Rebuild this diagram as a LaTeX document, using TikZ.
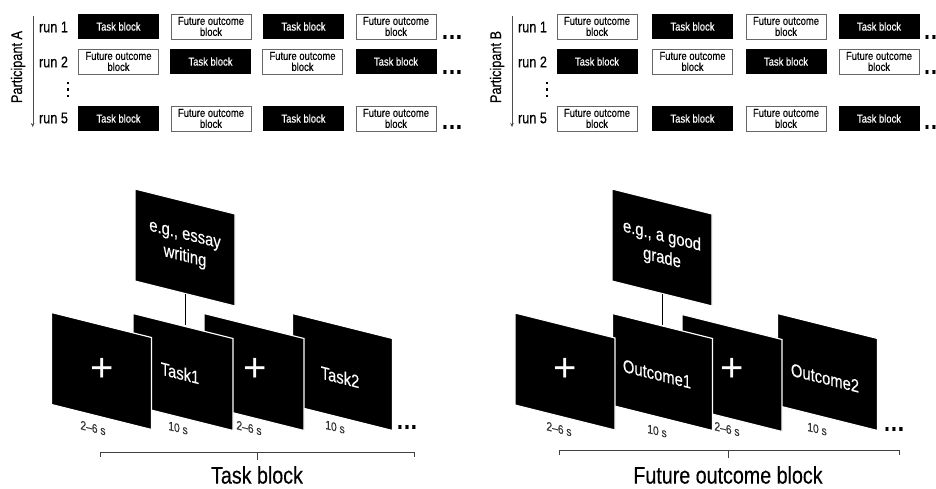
\documentclass[tikz,border=0pt]{standalone}
\usepackage{fontspec}
\setmainfont{Liberation Sans}[FakeStretch=0.82, FakeBold=0.3]
\newfontfamily\crossfont{Liberation Sans}
\usepackage{tikz}
\usetikzlibrary{arrows.meta}

\newcommand{\rowdots}{\textbf{.\hspace{1.5pt}.\hspace{1.5pt}.}}

\tikzset{
  taskbox/.style={fill=black, text=white, minimum width=81pt, minimum height=25pt,
    inner sep=0pt, font=\fontsize{11.5}{11}\selectfont},
  outbox/.style={draw=black!60, line width=0.8pt, fill=white, minimum width=80pt,
    minimum height=25pt, inner sep=0pt, align=center, font=\fontsize{11.5}{11}\selectfont},
  runlab/.style={font=\fontsize{15.5}{16}\selectfont},
  screen/.style={fill=black, draw=white, line width=1.2pt, text=white, yslant=-0.25,
    minimum width=100pt, minimum height=92pt, inner sep=0pt, align=center,
    font=\fontsize{18}{22}\selectfont},
  screentext/.style={text=white, yslant=-0.25, font=\fontsize{18}{22}\selectfont},
  fixcross/.style={text=white, font=\crossfont\fontsize{40}{40}\selectfont},
  durlab/.style={text=black!80, yslant=-0.25, font=\fontsize{12.5}{13}\selectfont},
  blocklab/.style={font=\fontsize{24}{25}\selectfont},
  moredots/.style={font=\fontsize{24}{24}\selectfont, inner sep=0pt},
  vdot/.style={fill=black, inner sep=0pt, minimum size=2.8pt}
}

\begin{document}
\begin{tikzpicture}[x=1pt, y=-1pt]
        \useasboundingbox (0,0) rectangle (936,489);

        % Participant A, the run orders
        \draw[-{Stealth[length=4pt,width=3.5pt]}, black!70] (32.7,16) -- (32.7,127);
        \node[rotate=90, runlab] (partA) at (18,67) {Participant A};
        \node[runlab] (runA1) at (53.5,27) {run 1};
        \node[runlab] (runA2) at (53.5,62) {run 2};
        \node[runlab] (runA5) at (53.5,118) {run 5};
        \foreach \y in {83,89.5,96}
            \node[vdot] at (68,\y) {};

        \node[taskbox] (a11) at (118.5,26.5) {Task block};
        \node[outbox]  (a12) at (211,26.5) {Future outcome\\block};
        \node[taskbox] (a13) at (303.5,26.5) {Task block};
        \node[outbox]  (a14) at (396,26.5) {Future outcome\\block};

        \node[outbox]  (a21) at (118.5,61.5) {Future outcome\\block};
        \node[taskbox] (a22) at (210.5,61.5) {Task block};
        \node[outbox]  (a23) at (302.5,61.5) {Future outcome\\block};
        \node[taskbox] (a24) at (396,61.5) {Task block};

        \node[taskbox] (a51) at (118.5,118.5) {Task block};
        \node[outbox]  (a52) at (211,118.5) {Future outcome\\block};
        \node[taskbox] (a53) at (303.5,118.5) {Task block};
        \node[outbox]  (a54) at (396,118.5) {Future outcome\\block};

        \node[moredots, anchor=south west] (dA1) at (442,39) {\rowdots};
        \node[moredots, anchor=south west] (dA2) at (442,74) {\rowdots};
        \node[moredots, anchor=south west] (dA5) at (442,129) {\rowdots};

        % Participant B, the run orders
        \draw[-{Stealth[length=4pt,width=3.5pt]}, black!70] (512,16) -- (512,127);
        \node[rotate=90, runlab] (partB) at (497,67) {Participant B};
        \node[runlab] (runB1) at (532.5,27) {run 1};
        \node[runlab] (runB2) at (532.5,62) {run 2};
        \node[runlab] (runB5) at (532.5,118) {run 5};
        \foreach \y in {83,89.5,96}
            \node[vdot] at (547,\y) {};

        \node[outbox]  (b11) at (597,26.5) {Future outcome\\block};
        \node[taskbox] (b12) at (692.5,26.5) {Task block};
        \node[outbox]  (b13) at (786,26.5) {Future outcome\\block};
        \node[taskbox] (b14) at (879,26.5) {Task block};

        \node[taskbox] (b21) at (597,61.5) {Task block};
        \node[outbox]  (b22) at (692.5,61.5) {Future outcome\\block};
        \node[taskbox] (b23) at (786,61.5) {Task block};
        \node[outbox]  (b24) at (879,61.5) {Future outcome\\block};

        \node[outbox]  (b51) at (597,118.5) {Future outcome\\block};
        \node[taskbox] (b52) at (692.5,118.5) {Task block};
        \node[outbox]  (b53) at (786,118.5) {Future outcome\\block};
        \node[taskbox] (b54) at (879,118.5) {Task block};

        \node[moredots, anchor=south west] (dB1) at (924,39) {\rowdots};
        \node[moredots, anchor=south west] (dB2) at (924,74) {\rowdots};
        \node[moredots, anchor=south west] (dB5) at (924,129) {\rowdots};

        % The task block screens (back to front)
        \node[screen] (topA) at (185,247.5) {e.g., essay\\writing};
        \draw[line width=1pt] (topA.south) -- (topA.south |- 0,325);
        \node[screen] (sA4) at (342.5,372) {};
        \node[screen] (sA3) at (254,372) {};
        \node[screen] (sA2) at (183,372) {};
        \node[screen] (sA1) at (101.5,371) {};
        \node[fixcross] (cA1) at (102,370) {+};
        \node[screentext] (tA1) at (180,373) {Task1};
        \node[fixcross] (cA3) at (255,370) {+};
        \node[screentext] (tA2) at (340,377) {Task2};

        \node[durlab] (lA1) at (93,428) {2--6 s};
        \node[durlab] (lA2) at (178,428) {10 s};
        \node[durlab] (lA3) at (249,428) {2--6 s};
        \node[durlab] (lA4) at (335,427) {10 s};
        \node[moredots, anchor=south west] (dA) at (397,429) {\rowdots};

        % The brace under the task block
        \coordinate (brAl) at (100,452);
        \coordinate (brAr) at (414,452);
        \coordinate (brAm) at (257,452);
        \draw[black!75, line width=0.9pt] ([yshift=-5pt]brAl) -- (brAl) -- (brAr) -- ([yshift=-5pt]brAr);
        \draw[black!75, line width=0.9pt] (brAm) -- ++(0,8);
        \node[blocklab] (labA) at (257,475) {Task block};

        % The future outcome block screens (back to front)
        \node[screen] (topB) at (662,247.5) {e.g., a good\\grade};
        \draw[line width=1pt] (topB.south) -- (topB.south |- 0,325);
        \node[screen] (sB4) at (827.5,372) {};
        \node[screen] (sB3) at (732,373) {};
        \node[screen] (sB2) at (662.5,372) {};
        \node[screen] (sB1) at (565,371.5) {};
        \node[fixcross] (cB1) at (565,370) {+};
        \node[screentext] (tB1) at (657,374) {Outcome1};
        \node[fixcross] (cB3) at (732,370) {+};
        \node[screentext] (tB2) at (825,378) {Outcome2};

        \node[durlab] (lB1) at (559,429) {2--6 s};
        \node[durlab] (lB2) at (657,431) {10 s};
        \node[durlab] (lB3) at (727,429) {2--6 s};
        \node[durlab] (lB4) at (817,429) {10 s};
        \node[moredots, anchor=south west] (dB) at (884,431) {\rowdots};

        % The brace under the future outcome block
        \coordinate (brBl) at (559,450);
        \coordinate (brBr) at (899,450);
        \coordinate (brBm) at (728,450);
        \draw[black!75, line width=0.9pt] ([yshift=-5pt]brBl) -- (brBl) -- (brBr) -- ([yshift=-5pt]brBr);
        \draw[black!75, line width=0.9pt] (brBm) -- ++(0,8);
        \node[blocklab] (labB) at (728,475) {Future outcome block};

    \end{tikzpicture}
\end{document}
